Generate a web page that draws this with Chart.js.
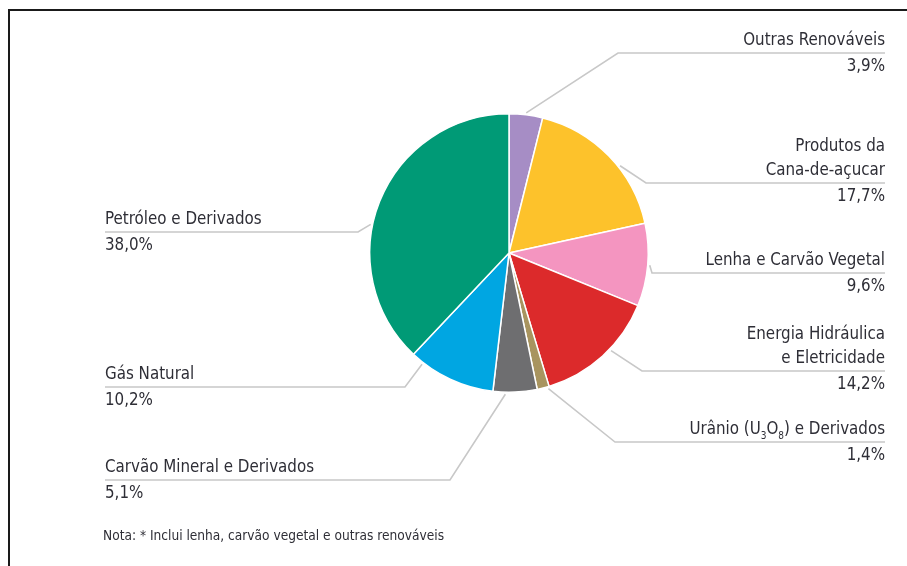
<!DOCTYPE html>
<html lang="pt">
<head>
<meta charset="UTF-8">
<script src="https://cdn.jsdelivr.net/npm/chart.js@4.4.0/dist/chart.umd.min.js"></script>
<title>Oferta de energia</title>
<style>
  html, body { margin: 0; padding: 0; background: #fff; }
  #wrap { position: relative; width: 907px; height: 566px; }
  #frame { position: absolute; left: 8px; top: 9px; right: 0; bottom: -4px;
           border-top: 2px solid #1a1a1a; border-left: 2px solid #1a1a1a; }
  canvas { position: absolute; left: 0; top: 0; }
</style>
</head>
<body>
<div id="wrap">
  <div id="frame"></div>
  <canvas id="pie" width="907" height="566"></canvas>
</div>
<script>
// fontes, em ordem horaria a partir do topo
const fontes = ['Outras Renováveis', 'Produtos da Cana-de-açucar', 'Lenha e Carvão Vegetal',
  'Energia Hidráulica e Eletricidade', 'Urânio (U3O8) e Derivados', 'Carvão Mineral e Derivados',
  'Gás Natural', 'Petróleo e Derivados'];
const percentuais = [3.9, 17.7, 9.6, 14.2, 1.4, 5.1, 10.2, 38.0];
const rotulos = ['3,9%', '17,7%', '9,6%', '14,2%', '1,4%', '5,1%', '10,2%', '38,0%'];
const cores = ['#a68dc5', '#fdc22b', '#f495c0', '#dc2a2b', '#a8945f', '#6e6e70', '#00a6e2', '#009a76'];

// layout das chamadas (linhas de texto, lado, cotovelo, fim da linha, ajuste de angulo)
const chamadas = [
  { linhas: ['Outras Renováveis'], lado: 'r', ex: 618, ey: 53, fim: 885, da: 0 },
  { linhas: ['Produtos da', 'Cana-de-açucar'], lado: 'r', ex: 646, ey: 183, fim: 885, da: 6 },
  { linhas: ['Lenha e Carvão Vegetal'], lado: 'r', ex: 652, ey: 273, fim: 885, da: 0 },
  { linhas: ['Energia Hidráulica', 'e Eletricidade'], lado: 'r', ex: 642, ey: 371, fim: 885, da: -4 },
  { linhas: ['Urânio (U3O8) e Derivados'], lado: 'r', ex: 615, ey: 442, fim: 885, da: -2 },
  { linhas: ['Carvão Mineral e Derivados'], lado: 'l', ex: 450, ey: 480, fim: 105, da: 4 },
  { linhas: ['Gás Natural'], lado: 'l', ex: 405, ey: 387, fim: 105, da: 13 },
  { linhas: ['Petróleo e Derivados'], lado: 'l', ex: 358, ey: 232, fim: 105, da: -10 }
];

const FONTE = '"DejaVu Sans Condensed", "Liberation Sans Narrow", sans-serif';
const COR_TEXTO = '#2e2e36';
const TAM = '16.8px ';

function escreveUranio(ctx, x, y) {
  // texto com subscritos, alinhado a direita em x
  const partes = [['Urânio (U', 0], ['3', 1], ['O', 0], ['8', 1], [') e Derivados', 0]];
  let w = 0;
  partes.forEach(p => { ctx.font = (p[1] ? '10px ' : TAM) + FONTE; w += ctx.measureText(p[0]).width; });
  let cx = x - w;
  ctx.textAlign = 'left';
  partes.forEach(p => {
    ctx.font = (p[1] ? '10px ' : TAM) + FONTE;
    ctx.fillText(p[0], cx, y + (p[1] ? 5 : 0));
    cx += ctx.measureText(p[0]).width;
  });
}

const chamadasPlugin = {
  id: 'chamadas',
  afterDatasetsDraw(chart) {
    const ctx = chart.ctx;
    const arcs = chart.getDatasetMeta(0).data;
    ctx.save();
    arcs.forEach((arc, i) => {
      const c = chamadas[i];
      const ang = (arc.startAngle + arc.endAngle) / 2 + c.da * Math.PI / 180;
      const r = arc.outerRadius + 2;
      const sx = arc.x + Math.cos(ang) * r;
      const sy = arc.y + Math.sin(ang) * r;
      ctx.strokeStyle = '#c8c8c8';
      ctx.lineWidth = 1.6;
      ctx.beginPath();
      ctx.moveTo(sx, sy);
      ctx.lineTo(c.ex, c.ey);
      ctx.lineTo(c.fim, c.ey);
      ctx.stroke();

      ctx.fillStyle = COR_TEXTO;
      ctx.textBaseline = 'alphabetic';
      ctx.font = TAM + FONTE;
      const tx = c.fim;
      const n = c.linhas.length;
      c.linhas.forEach((t, k) => {
        const y = c.ey - 8 - (n - 1 - k) * 24;
        if (i === 4) escreveUranio(ctx, tx, y);
        else { ctx.textAlign = c.lado === 'r' ? 'right' : 'left'; ctx.fillText(t, tx, y); }
      });
      ctx.font = TAM + FONTE;
      ctx.textAlign = c.lado === 'r' ? 'right' : 'left';
      ctx.fillText(rotulos[i], tx, c.ey + 18);
    });

    ctx.font = '13.6px ' + FONTE;
    ctx.textAlign = 'left';
    ctx.fillStyle = COR_TEXTO;
    ctx.fillText('Nota: * Inclui lenha, carvão vegetal e outras renováveis', 103, 540);
    ctx.restore();
  }
};

new Chart(document.getElementById('pie').getContext('2d'), {
  type: 'pie',
  data: {
    labels: fontes,
    datasets: [{
      data: percentuais,
      backgroundColor: cores,
      borderColor: '#ffffff',
      borderWidth: 1.5
    }]
  },
  options: {
    responsive: false,
    animation: false,
    layout: { padding: { left: 369, right: 258, top: 113, bottom: 173 } },
    plugins: { legend: { display: false }, tooltip: { enabled: false } }
  },
  plugins: [chamadasPlugin]
});
</script>
</body>
</html>
